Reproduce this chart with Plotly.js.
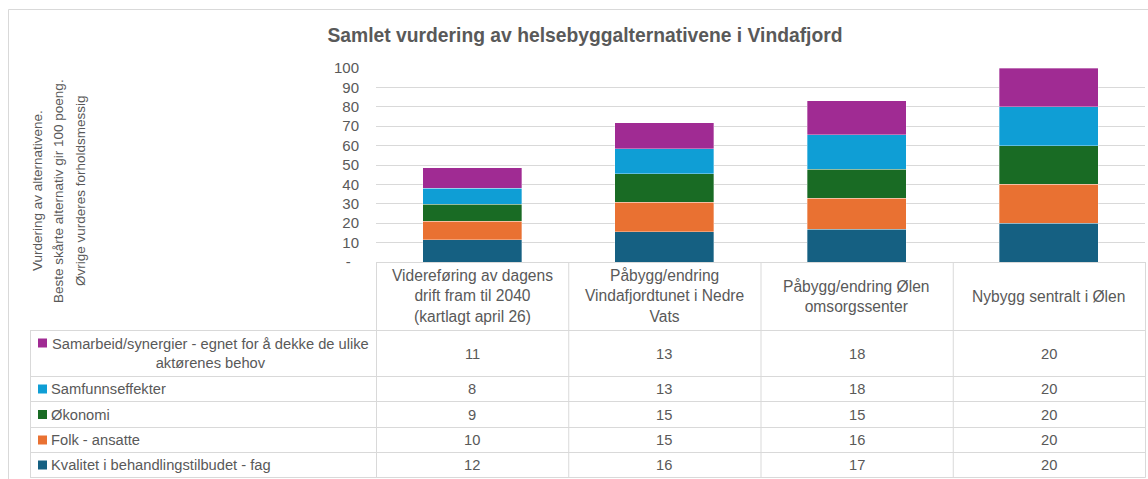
<!DOCTYPE html>
<html>
<head>
<meta charset="utf-8">
<script src="https://cdn.plot.ly/plotly-3.0.1.min.js"></script>
<style>html,body{margin:0;padding:0;background:#fff;}#chart{width:1148px;height:479px;}</style>
</head>
<body>
<div id="chart"></div>
<script>
// ---- data ----
const categories = ["Videreføring av dagens drift fram til 2040 (kartlagt april 26)", "Påbygg/endring Vindafjordtunet i Nedre Vats", "Påbygg/endring Ølen omsorgssenter", "Nybygg sentralt i Ølen"];
const categoryLabels = ["Videreføring av dagens<br>drift fram til 2040<br>(kartlagt april 26)", "Påbygg/endring<br>Vindafjordtunet i Nedre<br>Vats", "Påbygg/endring Ølen<br>omsorgssenter", "Nybygg sentralt i Ølen"];
// series, listed in table order (top row first)
const samarbeid = [10.6, 13.4, 17.6, 20];
const samfunn   = [8.1, 12.8, 17.9, 20];
const okonomi   = [8.7, 14.8, 14.9, 20];
const folk      = [9.6, 15.2, 15.9, 20];
const kvalitet  = [11.5, 15.6, 16.9, 20];
const seriesNames = ["Samarbeid/synergier - egnet for å dekke de ulike<br>aktørenes behov", "Samfunnseffekter", "Økonomi", "Folk - ansatte", "Kvalitet i behandlingstilbudet - fag"];
const seriesColors = ["#A02B93", "#0F9ED5", "#196B24", "#E97132", "#156082"];
const yTickVals = [0, 10, 20, 30, 40, 50, 60, 70, 80, 90, 100];
const yTickText = ["-\u00a0\u00a0", "10", "20", "30", "40", "50", "60", "70", "80", "90", "100"];
const chartTitle = "Samlet vurdering av helsebyggalternativene i Vindafjord";
const yTitleLines = ["Vurdering av alternativene.", "Beste skårte alternativ gir 100 poeng.", "Øvrige vurderes forholdsmessig"];

const seriesValues = [samarbeid, samfunn, okonomi, folk, kvalitet];

// ---- geometry helpers (pixel -> paper) ----
const W = 1148, H = 479;
const M = {l: 376, r: 3, t: 68, b: 217};
const PW = W - M.l - M.r, PH = H - M.t - M.b;
const px = x => (x - M.l) / PW;
const py = y => (H - M.b - y) / PH;

const grey = "#595959";
const lineGrey = "#D9D9D9";
const bodyFont = "Liberation Sans, Arial, sans-serif";

// traces: stack bottom-up (reverse of table order)
const traces = [];
for (let i = seriesValues.length - 1; i >= 0; i--) {
  traces.push({
    type: "bar",
    x: categories,
    y: seriesValues[i],
    name: seriesNames[i],
    marker: {color: seriesColors[i], line: {color: "rgba(255,255,255,0.55)", width: 0.6}},
    hoverinfo: "skip",
    showlegend: false
  });
}

const shapes = [];
const annotations = [];
const hline = (x0, x1, y) => shapes.push({type: "line", xref: "paper", yref: "paper", x0: px(x0), x1: px(x1), y0: py(y), y1: py(y), line: {color: lineGrey, width: 1}});
const vline = (x, y0, y1) => shapes.push({type: "line", xref: "paper", yref: "paper", x0: px(x), x1: px(x), y0: py(y0), y1: py(y1), line: {color: lineGrey, width: 1}});

// outer chart border
shapes.push({type: "rect", xref: "paper", yref: "paper", x0: px(8.5), x1: px(1200), y0: py(9.5), y1: py(520), line: {color: lineGrey, width: 1}, fillcolor: "rgba(0,0,0,0)"});

// data table grid
const colEdges = [376, 568.25, 760.5, 952.75, 1145];
const rowEdges = [330.5, 376.5, 401.5, 427.5, 452.5, 477.5];
hline(376, 1145, 262.5);
colEdges.forEach(x => vline(x + 0.5, 262, 477.5));
rowEdges.forEach(y => hline(30, 1145.5, y));
vline(30.5, 330.5, 477.5);

// category header labels
categoryLabels.forEach((lab, c) => {
  annotations.push({xref: "x", yref: "paper", x: categories[c], y: py(296), text: lab, showarrow: false,
    font: {family: bodyFont, size: 15.6, color: grey}, align: "center", xanchor: "center", yanchor: "middle"});
});

// rows: keys, labels, values
const rowCenters = rowEdges.slice(0, -1).map((y, i) => (y + rowEdges[i + 1]) / 2);
seriesNames.forEach((name, r) => {
  const yc = rowCenters[r];
  const keyY = r === 0 ? 343 : yc;
  shapes.push({type: "rect", xref: "paper", yref: "paper", x0: px(38), x1: px(47), y0: py(keyY - 4.5), y1: py(keyY + 4.5), fillcolor: seriesColors[r], line: {width: 0}});
  if (r === 0) {
    annotations.push({xref: "paper", yref: "paper", x: px(210), y: py(yc), text: name, showarrow: false,
      font: {family: bodyFont, size: 14.7, color: grey}, align: "center", xanchor: "center", yanchor: "middle"});
  } else {
    annotations.push({xref: "paper", yref: "paper", x: px(49), y: py(yc), text: name, showarrow: false,
      font: {family: bodyFont, size: 14.7, color: grey}, align: "left", xanchor: "left", yanchor: "middle"});
  }
  seriesValues[r].forEach((v, c) => {
    annotations.push({xref: "x", yref: "paper", x: categories[c], y: py(yc), text: String(Math.round(v)), showarrow: false,
      font: {family: bodyFont, size: 14.7, color: grey}, xanchor: "center", yanchor: "middle"});
  });
});

// y-axis title (three rotated lines)
const yTitleX = [37, 58, 80];
yTitleLines.forEach((t, i) => {
  annotations.push({xref: "paper", yref: "paper", x: px(yTitleX[i]), y: py(191), text: t, textangle: -90, showarrow: false,
    font: {family: bodyFont, size: 13.5, color: grey}, xanchor: "center", yanchor: "middle"});
});

const layout = {
  width: W, height: H,
  margin: M,
  paper_bgcolor: "#fff", plot_bgcolor: "#fff",
  barmode: "stack",
  bargap: 0.485,
  title: {text: chartTitle, font: {family: bodyFont, size: 19.3, color: grey, weight: "bold"},
    xref: "container", yref: "container", x: 585 / W, y: 1 - 35 / H, xanchor: "center", yanchor: "middle"},
  xaxis: {type: "category", range: [-0.5, 3.5], showticklabels: false, showgrid: false, zeroline: false, showline: false, fixedrange: true},
  yaxis: {range: [0, 100], tickvals: yTickVals, ticktext: yTickText, showgrid: true, gridcolor: lineGrey, gridwidth: 1,
    zeroline: false, showline: false, ticks: "", ticklabelstandoff: 16,
    tickfont: {family: bodyFont, size: 15, color: grey}, fixedrange: true},
  shapes: shapes,
  annotations: annotations,
  showlegend: false
};

Plotly.newPlot("chart", traces, layout, {displayModeBar: false, staticPlot: true});
</script>
</body>
</html>
